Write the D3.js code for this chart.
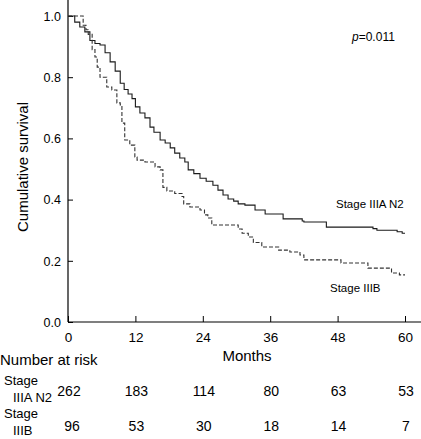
<!DOCTYPE html>
<html>
<head>
<meta charset="utf-8">
<script src="https://cdn.jsdelivr.net/npm/d3@7"></script>
<style>
  html, body { margin: 0; padding: 0; background: #fff; }
  svg { display: block; }
  text { font-family: "Liberation Sans", Arial, Helvetica, sans-serif; fill: #000; }
</style>
</head>
<body>
<svg id="chart" width="421" height="439"></svg>
<script>
// ---- data ----
const iiiaTimes = [0,1.2,2.1,3.0,3.9,4.8,5.7,6.6,7.5,8.4,9.3,10.0,10.7,11.4,12.0,12.8,13.7,14.6,15.3,16.4,17.3,18.2,19.0,19.9,20.8,21.4,22.4,23.5,24.6,25.8,26.7,27.6,28.5,29.5,30.3,31.5,33.3,35.1,38.3,41.7,42.0,46.0,54.3,55.0,58.6,59.5,60];
const iiiaSurv  = [1.0,0.98,0.964,0.948,0.92,0.91,0.905,0.88,0.85,0.82,0.78,0.76,0.745,0.73,0.703,0.683,0.667,0.637,0.62,0.595,0.585,0.569,0.552,0.536,0.523,0.497,0.485,0.47,0.46,0.447,0.431,0.415,0.402,0.395,0.386,0.382,0.366,0.353,0.337,0.33,0.327,0.31,0.305,0.30,0.295,0.29,0.29];
const iiibTimes = [0,2.7,3.2,3.6,4.3,4.8,5.2,5.7,6.9,7.8,8.7,9.3,9.6,10.1,11.0,11.9,12.3,13.7,15.5,16.4,16.9,17.6,19.0,20.3,20.6,21.7,23.5,24.3,24.9,25.6,30.3,31.0,32.1,33.0,34.5,37.5,39.5,41.3,42.0,48.6,53.4,57.6,59.0,60];
const iiibSurv  = [1.0,0.97,0.955,0.94,0.89,0.866,0.833,0.80,0.768,0.758,0.716,0.709,0.65,0.595,0.578,0.539,0.529,0.523,0.507,0.497,0.44,0.428,0.42,0.41,0.386,0.376,0.366,0.35,0.34,0.317,0.304,0.29,0.278,0.26,0.245,0.235,0.229,0.219,0.203,0.193,0.176,0.16,0.154,0.154];
const xTicks = [0,12,24,36,48,60];
const yTicks = [0.0,0.2,0.4,0.6,0.8,1.0];
const riskIIIA = [262,183,114,80,63,53];
const riskIIIB = [96,53,30,18,14,7];
const groupNames = ["Stage IIIA N2","Stage IIIB"];
const pValueText = "=0.011";

// ---- scales ----
const svg = d3.select("#chart");
const x = d3.scaleLinear().domain([0,60]).range([68,405]);
const y = d3.scaleLinear().domain([0,1]).range([322,16]);

// axes lines
svg.append("line").attr("x1",68).attr("x2",68).attr("y1",0).attr("y2",322)
  .attr("stroke","#000").attr("stroke-width",1.2);
svg.append("line").attr("x1",68).attr("x2",421).attr("y1",322).attr("y2",322)
  .attr("stroke","#000").attr("stroke-width",1.2);

// y axis (ticks inward)
const yAxis = d3.axisLeft(y).tickValues(yTicks).tickFormat(d3.format(".1f"))
  .tickSizeInner(-5).tickSizeOuter(0).tickPadding(7);
const gy = svg.append("g").attr("transform","translate(68,0)").call(yAxis);
gy.select(".domain").remove();
gy.selectAll("text").style("font-size","12.5px").attr("dy","0.35em");

// x axis (ticks inward)
const xAxis = d3.axisBottom(x).tickValues(xTicks).tickFormat(d3.format("d"))
  .tickSizeInner(-6).tickSizeOuter(0).tickPadding(10);
const gx = svg.append("g").attr("transform","translate(0,322)").call(xAxis);
gx.select(".domain").remove();
gx.selectAll("text").style("font-size","13.5px").attr("y",20).attr("dy",0);

// curves
const line = d3.line().x(d => x(d[0])).y(d => y(d[1])).curve(d3.curveStepAfter);
const iiia = iiiaTimes.map((t,i) => [t, iiiaSurv[i]]);
const iiib = iiibTimes.map((t,i) => [t, iiibSurv[i]]);
svg.append("path").datum(iiia).attr("d", line)
  .attr("fill","none").attr("stroke","#1a1a1a").attr("stroke-width",1.1);
svg.append("path").datum(iiib).attr("d", line)
  .attr("fill","none").attr("stroke","#333").attr("stroke-width",1.1)
  .attr("stroke-dasharray","4,2");

// labels
svg.append("text").attr("transform","translate(28,167) rotate(-90)")
  .attr("text-anchor","middle").style("font-size","15px").text("Cumulative survival");
svg.append("text").attr("x",247).attr("y",361).attr("text-anchor","middle")
  .style("font-size","15px").text("Months");

const pt = svg.append("text").attr("x",352).attr("y",41).style("font-size","12px");
pt.append("tspan").style("font-style","italic").text("p");
pt.append("tspan").text(pValueText);

svg.append("text").attr("x",336).attr("y",208).style("font-size","11.5px").text(groupNames[0]);
svg.append("text").attr("x",330).attr("y",292).style("font-size","11.5px").text(groupNames[1]);

// number at risk
svg.append("text").attr("x",0).attr("y",365).style("font-size","15px").text("Number at risk");
svg.append("text").attr("x",4).attr("y",385).style("font-size","13px").text("Stage");
svg.append("text").attr("x",13).attr("y",402).style("font-size","13px").text("IIIA N2");
svg.append("text").attr("x",4).attr("y",418).style("font-size","13px").text("Stage");
svg.append("text").attr("x",13).attr("y",435).style("font-size","13px").text("IIIB");

svg.selectAll(".r1").data(riskIIIA).enter().append("text")
  .attr("x",(d,i) => x(xTicks[i]) + 1).attr("y",396).attr("text-anchor","middle")
  .style("font-size","14px").text(d => d);
svg.selectAll(".r2").data(riskIIIB).enter().append("text")
  .attr("x",(d,i) => x(xTicks[i]) + 1 + (i===0?3:0)).attr("y",431).attr("text-anchor","middle")
  .style("font-size","14px").text(d => d);
</script>
</body>
</html>
